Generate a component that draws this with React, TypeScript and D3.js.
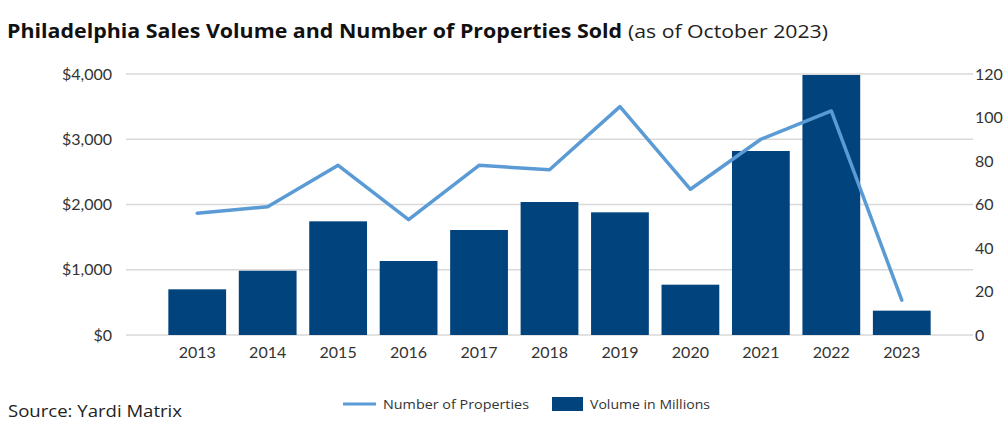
import { useRef, useEffect } from 'react';
import * as d3 from 'd3';

const years = ['2013', '2014', '2015', '2016', '2017', '2018', '2019', '2020', '2021', '2022', '2023'];
const volumeMillions = [700, 985, 1742, 1134, 1609, 2038, 1880, 771, 2820, 3985, 373];
const propertiesSold = [56, 59, 78, 53, 78, 76, 105, 67, 90, 103, 16];
const leftTicks = [0, 1000, 2000, 3000, 4000];
const rightTicks = [0, 20, 40, 60, 80, 100, 120];

const W = 1007;
const H = 433;
const barColor = '#00437d';
const lineColor = '#5b9bd5';
const axisFont = 'Lato, "Noto Sans", sans-serif';
const textFont = '"Open Sans", "Noto Sans", sans-serif';

export default function App() {
  const svgRef = useRef<SVGSVGElement>(null);

  useEffect(() => {
    if (!svgRef.current) return;
    const svg = d3.select(svgRef.current);
    svg.selectAll('*').remove();

    const plotTop = 74;
    const plotBottom = 335;
    const gridLeft = 126;
    const gridRight = 973;

    const x = d3.scaleBand<string>().domain(years).range([162, 937]).paddingInner(0.18).paddingOuter(0.09);
    const yLeft = d3.scaleLinear().domain([0, 4000]).range([plotBottom, plotTop]);
    const yRight = d3.scaleLinear().domain([0, 120]).range([plotBottom, plotTop]);

    // title
    svg.append('text')
      .attr('x', 7)
      .attr('y', 38)
      .attr('font-family', textFont)
      .attr('font-size', 19)
      .attr('font-weight', 'bold')
      .attr('fill', '#111')
      .attr('textLength', 615)
      .attr('lengthAdjust', 'spacingAndGlyphs')
      .text('Philadelphia Sales Volume and Number of Properties Sold');
    svg.append('text')
      .attr('x', 628)
      .attr('y', 38)
      .attr('font-family', textFont)
      .attr('font-size', 19)
      .attr('fill', '#222')
      .attr('textLength', 200)
      .attr('lengthAdjust', 'spacingAndGlyphs')
      .text('(as of October 2023)');

    // grid lines
    svg.append('g')
      .selectAll('line')
      .data(leftTicks)
      .join('line')
      .attr('x1', gridLeft)
      .attr('x2', gridRight)
      .attr('y1', d => yLeft(d))
      .attr('y2', d => yLeft(d))
      .attr('stroke', '#d9d9d9')
      .attr('stroke-width', 1.5);

    // left axis labels
    svg.append('g')
      .selectAll('text')
      .data(leftTicks)
      .join('text')
      .attr('x', 112)
      .attr('y', d => yLeft(d))
      .attr('dy', '0.35em')
      .attr('text-anchor', 'end')
      .attr('font-family', axisFont)
      .attr('font-size', 16)
      .attr('fill', '#333')
      .text(d => '$' + d3.format(',')(d));

    // right axis labels
    svg.append('g')
      .selectAll('text')
      .data(rightTicks)
      .join('text')
      .attr('x', 975)
      .attr('y', d => yRight(d))
      .attr('dy', '0.35em')
      .attr('text-anchor', 'start')
      .attr('font-family', axisFont)
      .attr('font-size', 16)
      .attr('fill', '#333')
      .text(d => String(d));

    // bars
    svg.append('g')
      .selectAll('rect')
      .data(years)
      .join('rect')
      .attr('x', d => x(d)!)
      .attr('width', x.bandwidth())
      .attr('y', (d, i) => yLeft(volumeMillions[i]))
      .attr('height', (d, i) => plotBottom - yLeft(volumeMillions[i]))
      .attr('fill', barColor);

    // x labels
    svg.append('g')
      .selectAll('text')
      .data(years)
      .join('text')
      .attr('x', d => x(d)! + x.bandwidth() / 2)
      .attr('y', 352)
      .attr('dy', '0.35em')
      .attr('text-anchor', 'middle')
      .attr('font-family', axisFont)
      .attr('font-size', 16)
      .attr('fill', '#333')
      .text(d => d);

    // line
    const line = d3.line<number>()
      .x((d, i) => x(years[i])! + x.bandwidth() / 2)
      .y(d => yRight(d));

    svg.append('path')
      .datum(propertiesSold)
      .attr('fill', 'none')
      .attr('stroke', lineColor)
      .attr('stroke-width', 3.5)
      .attr('stroke-linejoin', 'round')
      .attr('stroke-linecap', 'round')
      .attr('d', line);

    // legend
    const lg = svg.append('g').attr('font-family', textFont).attr('font-size', 13.5).attr('fill', '#333');
    lg.append('line')
      .attr('x1', 343).attr('x2', 376).attr('y1', 404).attr('y2', 404)
      .attr('stroke', lineColor).attr('stroke-width', 3);
    lg.append('text').attr('x', 383).attr('y', 404).attr('dy', '0.35em')
      .attr('textLength', 146).attr('lengthAdjust', 'spacingAndGlyphs')
      .text('Number of Properties');
    lg.append('rect')
      .attr('x', 552).attr('y', 397).attr('width', 31).attr('height', 14)
      .attr('fill', barColor);
    lg.append('text').attr('x', 590).attr('y', 404).attr('dy', '0.35em')
      .attr('textLength', 120).attr('lengthAdjust', 'spacingAndGlyphs')
      .text('Volume in Millions');

    // source
    svg.append('text')
      .attr('x', 8)
      .attr('y', 417)
      .attr('font-family', textFont)
      .attr('font-size', 17)
      .attr('fill', '#222')
      .attr('textLength', 174)
      .attr('lengthAdjust', 'spacingAndGlyphs')
      .text('Source: Yardi Matrix');
  }, []);

  return (
    <svg
      ref={svgRef}
      width={W}
      height={H}
      style={{ position: 'absolute', left: 0, top: 0, background: '#fff' }}
    />
  );
}
